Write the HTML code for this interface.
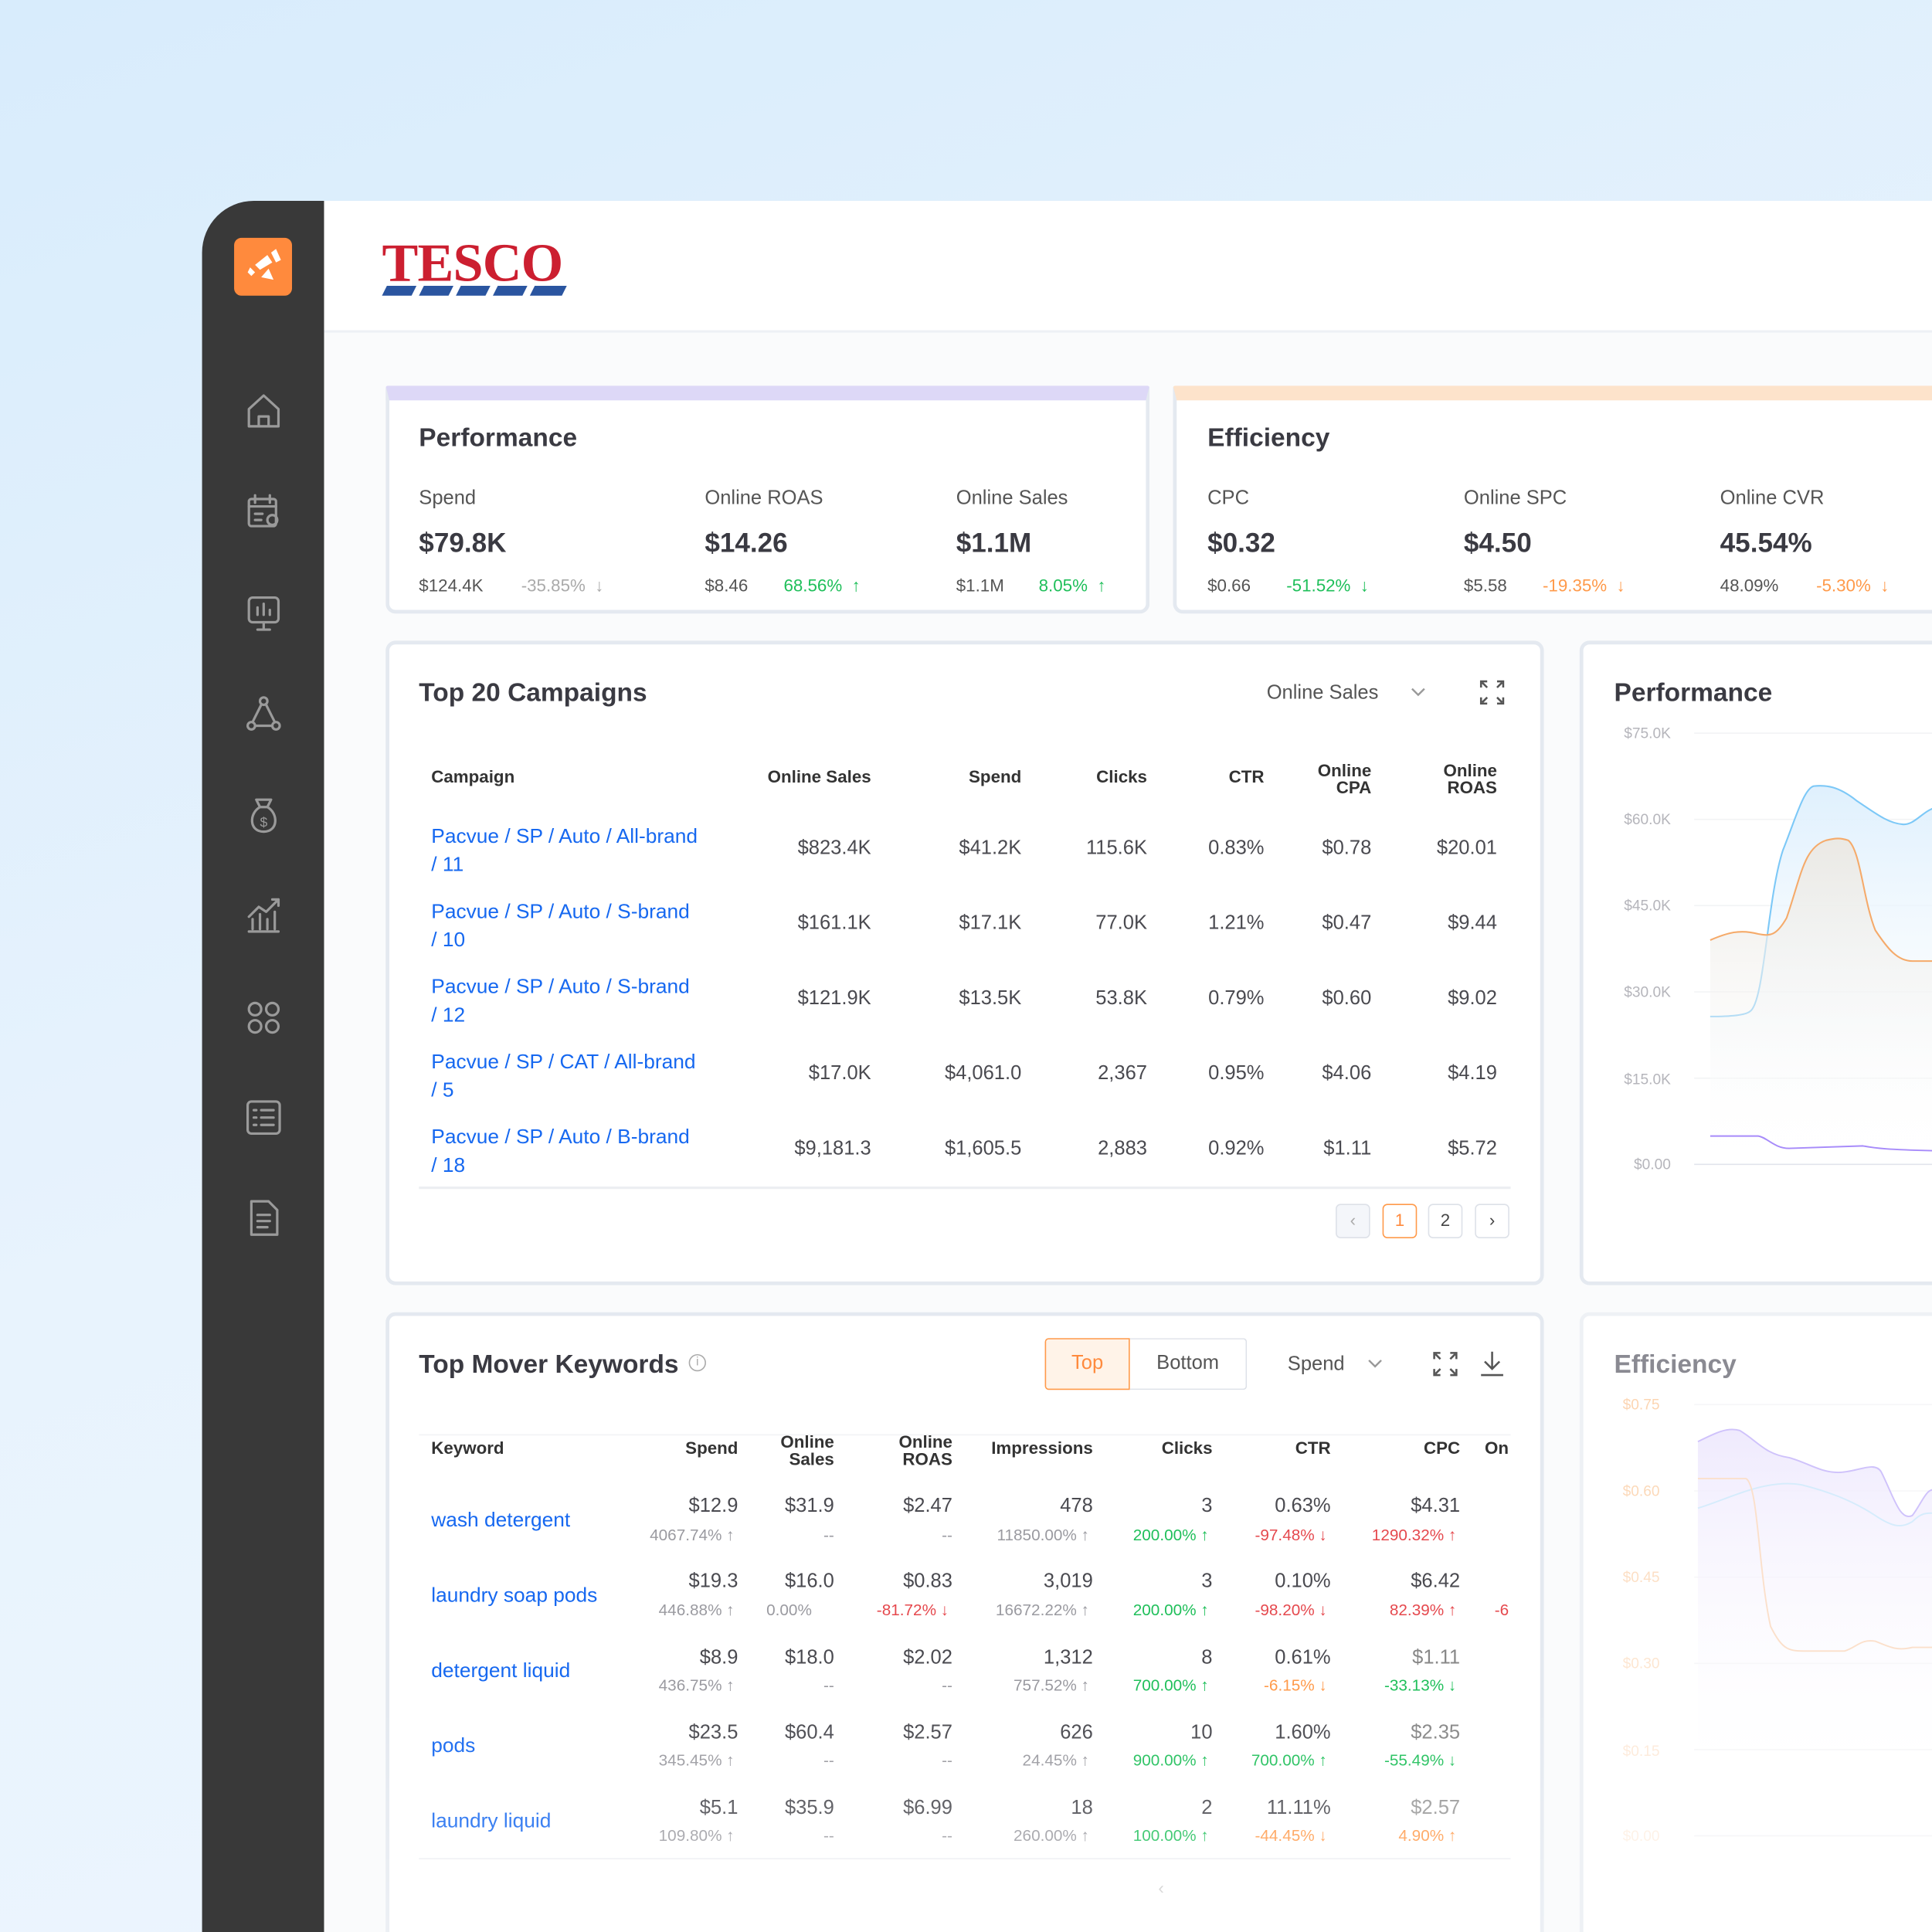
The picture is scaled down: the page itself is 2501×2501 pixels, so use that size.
<!DOCTYPE html>
<html><head><meta charset="utf-8"><style>
*{margin:0;padding:0;box-sizing:border-box}
html,body{width:2501px;height:2501px;overflow:hidden;background:#e6f2fc}
#w{position:absolute;left:0;top:0;width:1568px;height:1568px;transform:scale(1.59503);transform-origin:0 0;
background:linear-gradient(160deg,#d8ecfc 0%,#e8f3fd 50%,#eef6fe 100%);font-family:"Liberation Sans",sans-serif;color:#3a3a40;overflow:hidden}
.a{position:absolute;white-space:nowrap;line-height:1.2}
.r{text-align:right}
.card{position:absolute;background:#fff;border:3px solid #e4e9f0;border-radius:8px}
.h{font-size:14px;font-weight:bold;color:#333}
.v{font-size:16px;color:#4a4a50}
.s{font-size:13px;color:#9a9aa0}
.g{color:#1fbf5a}.rd{color:#e5484d}.o{color:#ff9a4a}
.lk{font-size:16.5px;color:#1668f0}
.pg{position:absolute;width:28px;height:28px;border:1.5px solid #dde1e8;border-radius:4px;font-size:14px;text-align:center;line-height:25px;color:#444}
</style></head><body><div id="w">
<!-- sidebar -->
<div class="a" style="left:164px;top:163px;width:100px;height:1420px;background:#393939;border-top-left-radius:42px"></div>
<div class="a" style="left:190px;top:193px;width:47px;height:47px;background:#ff8a3d;border-radius:6px"></div>
<svg class="a" style="left:190px;top:193px" width="47" height="47"><path d="M17 22l10-8 4 6-10 6z M30 12l4-3 4 9-4 2z M22 32l6-7 4 9z M13 24l4 4-3 3-3-3z" fill="#fff"/></svg>
<svg class="a" style="left:196px;top:318px" width="36" height="700" fill="none" stroke="#9a9a9a" stroke-width="2" stroke-linecap="round" stroke-linejoin="round">
<path d="M6 14l12-11 12 11v14H6z M14 28v-8h8v8"/>
<g transform="translate(0,82)"><rect x="6" y="5" width="22" height="22" rx="2"/><path d="M11 2v6M23 2v6M6 11h22M11 17h6M11 22h5"/><circle cx="25" cy="22" r="4"/></g>
<g transform="translate(0,163)"><rect x="6" y="4" width="24" height="20" rx="3"/><path d="M13 18v-6M18 18v-9M23 18v-4M18 24v6M13 30h10"/></g>
<g transform="translate(0,245)"><circle cx="18" cy="6" r="3"/><circle cx="8" cy="26" r="3"/><circle cx="28" cy="26" r="3"/><path d="M16 9l-7 14M20 9l7 14M11 26h14"/></g>
<g transform="translate(0,327)"><path d="M12 4h12l-3 6h-6z M15 10C6 15 6 30 18 30s12-15 3-20"/><text x="18" y="26" font-size="11" fill="#9a9a9a" stroke="none" text-anchor="middle" font-family="Liberation Sans">$</text></g>
<g transform="translate(0,408)"><path d="M6 30h24M9 28v-8M15 28v-12M21 28v-8M27 28v-14M6 18l8-8 6 4 10-10M25 4h5v5"/></g>
<g transform="translate(0,490)"><circle cx="11" cy="11" r="5"/><circle cx="25" cy="11" r="5"/><circle cx="11" cy="25" r="5"/><circle cx="25" cy="25" r="5"/></g>
<g transform="translate(0,572)"><rect x="5" y="4" width="26" height="26" rx="3"/><path d="M10 11h2M16 11h10M10 17h2M16 17h10M10 23h2M16 23h10"/></g>
<g transform="translate(0,653)"><path d="M8 4h14l7 7v20H8z M13 15h10M13 20h10M13 25h8"/></g>
</svg>
<!-- main -->
<div class="a" style="left:263px;top:163px;width:1320px;height:1420px;background:#fafbfc"></div>
<div class="a" style="left:263px;top:163px;width:1320px;height:107px;background:#fff;border-bottom:2px solid #eef1f5"></div>
<div class="a" style="left:310px;top:188px;font-family:'Liberation Serif',serif;font-weight:bold;font-size:44px;color:#cc1f30;letter-spacing:-0.5px">TESCO</div>
<svg class="a" style="left:310px;top:232px" width="152" height="9"><g fill="#2a55a0"><path d="M4 0h24l-4 8H0z"/><path d="M34 0h24l-4 8H30z"/><path d="M64 0h24l-4 8H60z"/><path d="M94 0h24l-4 8H90z"/><path d="M124 0h26l-4 8h-26z"/></g></svg>

<!-- Performance KPI -->
<div class="card" style="left:313px;top:313px;width:620px;height:185px;border-top:12px solid #ddd8f7;border-radius:2px 2px 8px 8px"></div>
<div class="a" style="left:340px;top:343px;font-size:21px;font-weight:bold;color:#3a3a42">Performance</div>
<div class="a" style="left:340px;top:395px;font-size:16px;color:#555">Spend</div>
<div class="a" style="left:572px;top:395px;font-size:16px;color:#555">Online ROAS</div>
<div class="a" style="left:776px;top:395px;font-size:16px;color:#555">Online Sales</div>
<div class="a" style="left:340px;top:428px;font-size:22px;font-weight:bold;color:#3a3a42">$79.8K</div>
<div class="a" style="left:572px;top:428px;font-size:22px;font-weight:bold;color:#3a3a42">$14.26</div>
<div class="a" style="left:776px;top:428px;font-size:22px;font-weight:bold;color:#3a3a42">$1.1M</div>
<div class="a" style="left:340px;top:467px;font-size:14px;color:#555">$124.4K</div>
<div class="a" style="left:423px;top:467px;font-size:14px;color:#aaa">-35.85% &nbsp;↓</div>
<div class="a" style="left:572px;top:467px;font-size:14px;color:#555">$8.46</div>
<div class="a g" style="left:636px;top:467px;font-size:14px">68.56% &nbsp;↑</div>
<div class="a" style="left:776px;top:467px;font-size:14px;color:#555">$1.1M</div>
<div class="a g" style="left:843px;top:467px;font-size:14px">8.05% &nbsp;↑</div>

<!-- Efficiency KPI -->
<div class="card" style="left:952px;top:313px;width:700px;height:185px;border-top:12px solid #fde3cb;border-radius:2px 2px 8px 8px"></div>
<div class="a" style="left:980px;top:343px;font-size:21px;font-weight:bold;color:#3a3a42">Efficiency</div>
<div class="a" style="left:980px;top:395px;font-size:16px;color:#555">CPC</div>
<div class="a" style="left:1188px;top:395px;font-size:16px;color:#555">Online SPC</div>
<div class="a" style="left:1396px;top:395px;font-size:16px;color:#555">Online CVR</div>
<div class="a" style="left:980px;top:428px;font-size:22px;font-weight:bold;color:#3a3a42">$0.32</div>
<div class="a" style="left:1188px;top:428px;font-size:22px;font-weight:bold;color:#3a3a42">$4.50</div>
<div class="a" style="left:1396px;top:428px;font-size:22px;font-weight:bold;color:#3a3a42">45.54%</div>
<div class="a" style="left:980px;top:467px;font-size:14px;color:#555">$0.66</div>
<div class="a g" style="left:1044px;top:467px;font-size:14px">-51.52% &nbsp;↓</div>
<div class="a" style="left:1188px;top:467px;font-size:14px;color:#555">$5.58</div>
<div class="a o" style="left:1252px;top:467px;font-size:14px">-19.35% &nbsp;↓</div>
<div class="a" style="left:1396px;top:467px;font-size:14px;color:#555">48.09%</div>
<div class="a o" style="left:1474px;top:467px;font-size:14px">-5.30% &nbsp;↓</div>

<!-- Top 20 Campaigns -->
<div class="card" style="left:313px;top:520px;width:940px;height:523px"></div>
<div class="a" style="left:340px;top:550px;font-size:21px;font-weight:bold;color:#3a3a42">Top 20 Campaigns</div>
<div class="a" style="left:1028px;top:553px;font-size:16px;color:#555">Online Sales</div>
<svg class="a" style="left:1144px;top:556px" width="14" height="12"><path d="M2 3l5 5 5-5" stroke="#999" stroke-width="1.5" fill="none"/></svg>
<svg class="a" style="left:1200px;top:551px" width="22" height="22" fill="none" stroke="#555" stroke-width="1.6"><path d="M2 7V2h5M3 3l4 4M20 7V2h-5M19 3l-4 4M2 15v5h5M3 19l4-4M20 15v5h-5M19 19l-4-4"/></svg>
<div class="a h" style="left:350px;top:622px">Campaign</div>
<div class="a h r" style="right:861px;top:622px">Online Sales</div>
<div class="a h r" style="right:739px;top:622px">Spend</div>
<div class="a h r" style="right:637px;top:622px">Clicks</div>
<div class="a h r" style="right:542px;top:622px">CTR</div>
<div class="a h r" style="right:455px;top:618px;line-height:14px">Online<br>CPA</div>
<div class="a h r" style="right:353px;top:618px;line-height:14px">Online<br>ROAS</div>

<div class="a lk" style="left:350px;top:668px;line-height:23px">Pacvue / SP / Auto / All-brand<br>/ 11</div>
<div class="a lk" style="left:350px;top:729px;line-height:23px">Pacvue / SP / Auto / S-brand<br>/ 10</div>
<div class="a lk" style="left:350px;top:790px;line-height:23px">Pacvue / SP / Auto / S-brand<br>/ 12</div>
<div class="a lk" style="left:350px;top:851px;line-height:23px">Pacvue / SP / CAT / All-brand<br>/ 5</div>
<div class="a lk" style="left:350px;top:912px;line-height:23px">Pacvue / SP / Auto / B-brand<br>/ 18</div>

<div class="a v r" style="right:861px;top:679px">$823.4K</div><div class="a v r" style="right:739px;top:679px">$41.2K</div><div class="a v r" style="right:637px;top:679px">115.6K</div><div class="a v r" style="right:542px;top:679px">0.83%</div><div class="a v r" style="right:455px;top:679px">$0.78</div><div class="a v r" style="right:353px;top:679px">$20.01</div>
<div class="a v r" style="right:861px;top:740px">$161.1K</div><div class="a v r" style="right:739px;top:740px">$17.1K</div><div class="a v r" style="right:637px;top:740px">77.0K</div><div class="a v r" style="right:542px;top:740px">1.21%</div><div class="a v r" style="right:455px;top:740px">$0.47</div><div class="a v r" style="right:353px;top:740px">$9.44</div>
<div class="a v r" style="right:861px;top:801px">$121.9K</div><div class="a v r" style="right:739px;top:801px">$13.5K</div><div class="a v r" style="right:637px;top:801px">53.8K</div><div class="a v r" style="right:542px;top:801px">0.79%</div><div class="a v r" style="right:455px;top:801px">$0.60</div><div class="a v r" style="right:353px;top:801px">$9.02</div>
<div class="a v r" style="right:861px;top:862px">$17.0K</div><div class="a v r" style="right:739px;top:862px">$4,061.0</div><div class="a v r" style="right:637px;top:862px">2,367</div><div class="a v r" style="right:542px;top:862px">0.95%</div><div class="a v r" style="right:455px;top:862px">$4.06</div><div class="a v r" style="right:353px;top:862px">$4.19</div>
<div class="a v r" style="right:861px;top:923px">$9,181.3</div><div class="a v r" style="right:739px;top:923px">$1,605.5</div><div class="a v r" style="right:637px;top:923px">2,883</div><div class="a v r" style="right:542px;top:923px">0.92%</div><div class="a v r" style="right:455px;top:923px">$1.11</div><div class="a v r" style="right:353px;top:923px">$5.72</div>
<div class="a" style="left:340px;top:963px;width:886px;height:2px;background:#eceef2"></div>
<div class="pg" style="left:1084px;top:977px;background:#f4f6fa;color:#aaa">‹</div>
<div class="pg" style="left:1122px;top:977px;border-color:#ff9a4a;color:#ff8a3d">1</div>
<div class="pg" style="left:1159px;top:977px">2</div>
<div class="pg" style="left:1197px;top:977px">›</div>

<!-- Right Performance chart -->
<div class="card" style="left:1282px;top:520px;width:320px;height:523px"></div>
<div class="a" style="left:1310px;top:550px;font-size:21px;font-weight:bold;color:#3a3a42">Performance</div>
<svg class="a" style="left:1282px;top:580px" width="286" height="380">
<defs><linearGradient id="gb" x1="0" y1="0" x2="0" y2="1"><stop offset="0" stop-color="#dff0fd"/><stop offset="1" stop-color="#fff" stop-opacity="0"/></linearGradient>
<linearGradient id="go" x1="0" y1="0" x2="0" y2="1"><stop offset="0" stop-color="#ebe9e4"/><stop offset="1" stop-color="#fff" stop-opacity="0"/></linearGradient></defs>
<g font-size="12" fill="#b5b5bb" text-anchor="end" font-family="Liberation Sans"><text x="74" y="19">$75.0K</text><text x="74" y="89">$60.0K</text><text x="74" y="159">$45.0K</text><text x="74" y="229">$30.0K</text><text x="74" y="300">$15.0K</text><text x="74" y="369">$0.00</text></g>
<g stroke="#f2f3f5"><path d="M93 15h200M93 85h200M93 155h200M93 225h200M93 295h200"/></g><path d="M93 365h200" stroke="#e2e4ec"/>
<path d="M106 245C120 245 134 244 138 241C150 235 152 150 165 110C175 85 182 60 190 58C200 57 210 58 225 70C240 80 250 88 262 89C272 90 278 78 290 75V365H106Z" fill="url(#gb)"/>
<path d="M106 245C120 245 134 244 138 241C150 235 152 150 165 110C175 85 182 60 190 58C200 57 210 58 225 70C240 80 250 88 262 89C272 90 278 78 290 75" stroke="#7cc8f7" stroke-width="1.3" fill="none"/>
<path d="M106 183C120 177 130 174 145 178C155 180 160 179 168 165C180 130 182 108 200 102C208 100 212 100 218 102C228 110 230 150 240 175C250 190 258 200 270 200H290V365H106Z" fill="url(#go)"/>
<path d="M106 183C120 177 130 174 145 178C155 180 160 179 168 165C180 130 182 108 200 102C208 100 212 100 218 102C228 110 230 150 240 175C250 190 258 200 270 200H290" stroke="#f5aa6a" stroke-width="1.3" fill="none"/>
<path d="M106 342H145C152 343 158 352 170 352L230 350C240 352 250 353 290 354" stroke="#a78bfa" stroke-width="1.2" fill="none"/>
</svg>

<!-- Top Mover Keywords -->
<div class="card" style="left:313px;top:1065px;width:940px;height:560px"></div>
<div class="a" style="left:340px;top:1095px;font-size:21px;font-weight:bold;color:#3a3a42">Top Mover Keywords</div>
<div class="a" style="left:559px;top:1099px;width:14px;height:14px;border:1px solid #aaa;border-radius:50%;font-size:10px;color:#aaa;text-align:center;line-height:12px">i</div>
<div class="a" style="left:848px;top:1086px;width:69px;height:42px;border:1.5px solid #ff9a4a;background:#fff3e8;border-radius:3px 0 0 3px;color:#ff8a3d;font-size:16px;text-align:center;line-height:39px">Top</div>
<div class="a" style="left:917px;top:1086px;width:95px;height:42px;border:1.5px solid #dde1e8;border-left:none;border-radius:0 3px 3px 0;color:#555;font-size:16px;text-align:center;line-height:39px">Bottom</div>
<div class="a" style="left:1045px;top:1098px;font-size:16px;color:#555">Spend</div>
<svg class="a" style="left:1109px;top:1101px" width="14" height="12"><path d="M2 3l5 5 5-5" stroke="#999" stroke-width="1.5" fill="none"/></svg>
<svg class="a" style="left:1162px;top:1096px" width="22" height="22" fill="none" stroke="#555" stroke-width="1.6"><path d="M2 7V2h5M3 3l4 4M20 7V2h-5M19 3l-4 4M2 15v5h5M3 19l4-4M20 15v5h-5M19 19l-4-4"/></svg>
<svg class="a" style="left:1200px;top:1095px" width="22" height="24" fill="none" stroke="#555" stroke-width="1.6"><path d="M11 2v14M5 10l6 6 6-6M2 21h18"/></svg>
<div class="a" style="left:340px;top:1164px;width:886px;height:1px;background:#f2f3f5"></div>
<div class="a h" style="left:350px;top:1167px">Keyword</div>
<div class="a h r" style="right:969px;top:1167px">Spend</div>
<div class="a h r" style="right:891px;top:1163px;line-height:14px">Online<br>Sales</div>
<div class="a h r" style="right:795px;top:1163px;line-height:14px">Online<br>ROAS</div>
<div class="a h r" style="right:681px;top:1167px">Impressions</div>
<div class="a h r" style="right:584px;top:1167px">Clicks</div>
<div class="a h r" style="right:488px;top:1167px">CTR</div>
<div class="a h r" style="right:383px;top:1167px">CPC</div>
<div class="a h" style="left:1205px;top:1167px">On</div>

<div class="a lk" style="left:350px;top:1225px">wash detergent</div>
<div class="a lk" style="left:350px;top:1286px">laundry soap pods</div>
<div class="a lk" style="left:350px;top:1347px">detergent liquid</div>
<div class="a lk" style="left:350px;top:1408px">pods</div>
<div class="a lk" style="left:350px;top:1469px">laundry liquid</div>

<!-- row1 -->
<div class="a v r" style="right:969px;top:1213px">$12.9</div><div class="a s r" style="right:972px;top:1238px">4067.74% ↑</div>
<div class="a v r" style="right:891px;top:1213px">$31.9</div><div class="a s r" style="right:891px;top:1238px">--</div>
<div class="a v r" style="right:795px;top:1213px">$2.47</div><div class="a s r" style="right:795px;top:1238px">--</div>
<div class="a v r" style="right:681px;top:1213px">478</div><div class="a s r" style="right:684px;top:1238px">11850.00% ↑</div>
<div class="a v r" style="right:584px;top:1213px">3</div><div class="a s g r" style="right:587px;top:1238px">200.00% ↑</div>
<div class="a v r" style="right:488px;top:1213px">0.63%</div><div class="a s rd r" style="right:491px;top:1238px">-97.48% ↓</div>
<div class="a v r" style="right:383px;top:1213px">$4.31</div><div class="a s rd r" style="right:386px;top:1238px">1290.32% ↑</div>
<!-- row2 -->
<div class="a v r" style="right:969px;top:1274px">$19.3</div><div class="a s r" style="right:972px;top:1299px">446.88% ↑</div>
<div class="a v r" style="right:891px;top:1274px">$16.0</div><div class="a s" style="left:622px;top:1299px">0.00%</div>
<div class="a v r" style="right:795px;top:1274px">$0.83</div><div class="a s rd r" style="right:798px;top:1299px">-81.72% ↓</div>
<div class="a v r" style="right:681px;top:1274px">3,019</div><div class="a s r" style="right:684px;top:1299px">16672.22% ↑</div>
<div class="a v r" style="right:584px;top:1274px">3</div><div class="a s g r" style="right:587px;top:1299px">200.00% ↑</div>
<div class="a v r" style="right:488px;top:1274px">0.10%</div><div class="a s rd r" style="right:491px;top:1299px">-98.20% ↓</div>
<div class="a v r" style="right:383px;top:1274px">$6.42</div><div class="a s rd r" style="right:386px;top:1299px">82.39% ↑</div>
<div class="a s rd" style="left:1213px;top:1299px;width:12px;overflow:hidden">-6</div>
<!-- row3 -->
<div class="a v r" style="right:969px;top:1336px">$8.9</div><div class="a s r" style="right:972px;top:1360px">436.75% ↑</div>
<div class="a v r" style="right:891px;top:1336px">$18.0</div><div class="a s r" style="right:891px;top:1360px">--</div>
<div class="a v r" style="right:795px;top:1336px">$2.02</div><div class="a s r" style="right:795px;top:1360px">--</div>
<div class="a v r" style="right:681px;top:1336px">1,312</div><div class="a s r" style="right:684px;top:1360px">757.52% ↑</div>
<div class="a v r" style="right:584px;top:1336px">8</div><div class="a s g r" style="right:587px;top:1360px">700.00% ↑</div>
<div class="a v r" style="right:488px;top:1336px">0.61%</div><div class="a s o r" style="right:491px;top:1360px">-6.15% ↓</div>
<div class="a v r" style="right:383px;top:1336px;color:#888">$1.11</div><div class="a s g r" style="right:386px;top:1360px">-33.13% ↓</div>
<!-- row4 -->
<div class="a v r" style="right:969px;top:1397px">$23.5</div><div class="a s r" style="right:972px;top:1421px">345.45% ↑</div>
<div class="a v r" style="right:891px;top:1397px">$60.4</div><div class="a s r" style="right:891px;top:1421px">--</div>
<div class="a v r" style="right:795px;top:1397px">$2.57</div><div class="a s r" style="right:795px;top:1421px">--</div>
<div class="a v r" style="right:681px;top:1397px">626</div><div class="a s r" style="right:684px;top:1421px">24.45% ↑</div>
<div class="a v r" style="right:584px;top:1397px">10</div><div class="a s g r" style="right:587px;top:1421px">900.00% ↑</div>
<div class="a v r" style="right:488px;top:1397px">1.60%</div><div class="a s g r" style="right:491px;top:1421px">700.00% ↑</div>
<div class="a v r" style="right:383px;top:1397px;color:#888">$2.35</div><div class="a s g r" style="right:386px;top:1421px">-55.49% ↓</div>
<!-- row5 -->
<div class="a v r" style="right:969px;top:1458px">$5.1</div><div class="a s r" style="right:972px;top:1482px">109.80% ↑</div>
<div class="a v r" style="right:891px;top:1458px">$35.9</div><div class="a s r" style="right:891px;top:1482px">--</div>
<div class="a v r" style="right:795px;top:1458px">$6.99</div><div class="a s r" style="right:795px;top:1482px">--</div>
<div class="a v r" style="right:681px;top:1458px">18</div><div class="a s r" style="right:684px;top:1482px">260.00% ↑</div>
<div class="a v r" style="right:584px;top:1458px">2</div><div class="a s g r" style="right:587px;top:1482px">100.00% ↑</div>
<div class="a v r" style="right:488px;top:1458px">11.11%</div><div class="a s o r" style="right:491px;top:1482px">-44.45% ↓</div>
<div class="a v r" style="right:383px;top:1458px;color:#999">$2.57</div><div class="a s o r" style="right:386px;top:1482px">4.90% ↑</div>
<div class="a" style="left:340px;top:1508px;width:886px;height:1px;background:#eceef2"></div>
<div class="a" style="left:940px;top:1524px;font-size:14px;color:#ccc">‹</div>
<!-- fade overlay -->
<div class="a" style="left:313px;top:1380px;width:940px;height:190px;background:linear-gradient(180deg,rgba(255,255,255,0),rgba(255,255,255,0.3))"></div>

<!-- Efficiency chart (faded) -->
<div class="card" style="left:1282px;top:1065px;width:320px;height:560px;border-color:#eef1f5"></div>
<div class="a" style="left:1310px;top:1095px;font-size:21px;font-weight:bold;color:#8a8a92">Efficiency</div>
<svg class="a" style="left:1282px;top:1125px" width="286" height="380">
<defs><linearGradient id="ge" x1="0" y1="0" x2="0" y2="1"><stop offset="0" stop-color="#efeafd"/><stop offset="1" stop-color="#fff" stop-opacity="0"/></linearGradient></defs>
<g font-size="12" fill="#fcd5b2" text-anchor="end" font-family="Liberation Sans"><text x="65" y="19" opacity="1">$0.75</text><text x="65" y="89" opacity=".9">$0.60</text><text x="65" y="159" opacity=".75">$0.45</text><text x="65" y="229" opacity=".6">$0.30</text><text x="65" y="300" opacity=".45">$0.15</text><text x="65" y="369" opacity=".3">$0.00</text></g>
<g stroke="#f6f6f8"><path d="M93 15h200M93 85h200M93 155h200M93 225h200M93 295h200M93 365h200"/></g>
<path d="M96 45C110 38 120 33 130 36C145 45 150 55 170 58C185 62 195 70 210 70C225 70 240 60 245 70C255 90 260 110 270 105C278 95 282 80 290 85V330H96Z" fill="url(#ge)"/>
<path d="M96 45C110 38 120 33 130 36C145 45 150 55 170 58C185 62 195 70 210 70C225 70 240 60 245 70C255 90 260 110 270 105C278 95 282 80 290 85" stroke="#cfc2fb" stroke-width="1.2" fill="none"/>
<path d="M96 99C120 92 150 75 180 80C200 85 220 92 240 105C255 115 262 115 270 110C278 102 282 103 290 103" stroke="#d5ecfc" stroke-width="1.2" fill="none"/>
<path d="M96 75H135C145 80 145 150 155 195C165 215 170 215 185 215H215C225 212 228 205 240 207C252 212 258 215 270 212H290" stroke="#fbe0cb" stroke-width="1.2" fill="none"/>
</svg>
</div></body></html>
